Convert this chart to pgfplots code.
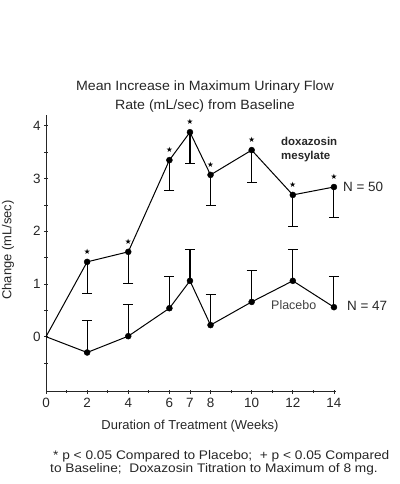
\documentclass[border=0pt]{standalone}
\usepackage{pgfplots}
\pgfplotsset{compat=1.18}
\usepackage{fontspec}
\setmainfont{Liberation Sans}
\newfontfamily\symfont{DejaVu Sans}
\newfontfamily\footfont{Liberation Sans}[FakeStretch=1.10]
\newfontfamily\titlefont{Liberation Sans}[FakeStretch=1.055]
\newcommand{\fs}[1]{\fontsize{#1}{#1}\selectfont}
\begin{document}
\begin{tikzpicture}[x=1bp,y=1bp]
\useasboundingbox (0bp,0bp) rectangle (400bp,-484bp);
\begin{axis}[
  at={(46bp,-391.5bp)}, anchor=south west,
  scale only axis,
  width=290bp, height=276.7bp,
  xmin=0, xmax=14.1, ymin=-1.04, ymax=4.21,
  axis lines=left,
  axis line style={-, line width=0.9bp, black!85},
  tick align=center,
  major tick length=4bp, minor tick length=3bp,
  tick style={line width=0.8bp, black!85},
  xtick={0,2,4,6,7,8,10,12,14},
  xticklabels={0,2,4,6,7,8,10,12,14},
  minor xtick={1,3,5,9,11,13},
  ytick={0,1,2,3,4},
  yticklabels={0,1,2,3,4},
  minor ytick={-0.5,0.5,1.5,2.5,3.5},
  tick label style={font=\fs{13.5}, text=black!85},
  xticklabel style={yshift=-1bp},
  clip=false,
]
% doxazosin line
\addplot[black, line width=1bp] coordinates {
 (0,0) (2,1.42) (4,1.61) (6,3.35) (7,3.88) (8,3.07) (10,3.54) (12,2.69) (14,2.84)};
\addplot[black, only marks, mark=*, mark size=3bp,
  error bars/.cd, y dir=minus, y explicit,
  error bar style={line width=1.1bp, black},
  error mark options={rotate=90, mark size=5bp, line width=1bp, black}]
 coordinates {
 (2,1.42) -= (0,0.60)
 (4,1.61) -= (0,0.60)
 (6,3.35) -= (0,0.58)
 (7,3.88) -= (0,0.60)
 (8,3.07) -= (0,0.59)
 (10,3.54) -= (0,0.61)
 (12,2.69) -= (0,0.59)
 (14,2.84) -= (0,0.58)};
% stars
\addplot[draw=none, mark=none,
  nodes near coords={\symfont\fs{7.5}★},
  every node near coord/.append style={anchor=center, inner sep=0pt, yshift=10bp}]
 coordinates {(2,1.42) (4,1.61) (6,3.35) (7,3.88) (8,3.07) (10,3.54) (12,2.69) (14,2.84)};
% placebo line
\addplot[black, line width=1bp] coordinates {
 (0,0) (2,-0.30) (4,0.01) (6,0.54) (7,1.06) (8,0.22) (10,0.66) (12,1.06) (14,0.56)};
\addplot[black, only marks, mark=*, mark size=3bp,
  error bars/.cd, y dir=plus, y explicit,
  error bar style={line width=1.1bp, black},
  error mark options={rotate=90, mark size=5bp, line width=1bp, black}]
 coordinates {
 (2,-0.30) += (0,0.60)
 (4,0.01) += (0,0.60)
 (6,0.54) += (0,0.60)
 (7,1.06) += (0,0.60)
 (8,0.22) += (0,0.58)
 (10,0.66) += (0,0.59)
 (12,1.06) += (0,0.60)
 (14,0.56) += (0,0.59)};
\end{axis}
% title
\node[font=\titlefont\fs{13.5}, text=black!85] at (205bp,-87bp) {Mean Increase in Maximum Urinary Flow};
\node[font=\titlefont\fs{13.5}, text=black!85] at (205bp,-106.5bp) {Rate (mL/sec) from Baseline};
% axis labels
\node[font=\fs{13}, rotate=90, text=black!85] at (8bp,-250bp) {Change (mL/sec)};
\node[font=\fs{13}, text=black!85] at (190bp,-426bp) {Duration of Treatment (Weeks)};
% annotations
\node[font=\bfseries\fs{11.5}, anchor=west, inner sep=0pt, text=black!85] at (281bp,-141bp) {doxazosin};
\node[font=\bfseries\fs{11.5}, anchor=west, inner sep=0pt, text=black!85] at (281bp,-156.5bp) {mesylate};
\node[font=\fs{13.5}, anchor=west, inner sep=0pt, text=black!85] at (343bp,-187bp) {N = 50};
\node[font=\fs{12.5}, anchor=west, inner sep=0pt, text=black!75] at (271bp,-305bp) {Placebo};
\node[font=\fs{13.5}, anchor=west, inner sep=0pt, text=black!85] at (347bp,-306bp) {N = 47};
% footnote
\node[font=\footfont\fs{12.5}, anchor=west, inner sep=0pt, text=black!85] at (53bp,-456bp) {* p < 0.05 Compared to Placebo;\ \ + p < 0.05 Compared};
\node[font=\footfont\fs{12.5}, anchor=west, inner sep=0pt, text=black!85] at (50bp,-469.5bp) {to Baseline;\ \ Doxazosin Titration to Maximum of 8 mg.};
\end{tikzpicture}
\end{document}
